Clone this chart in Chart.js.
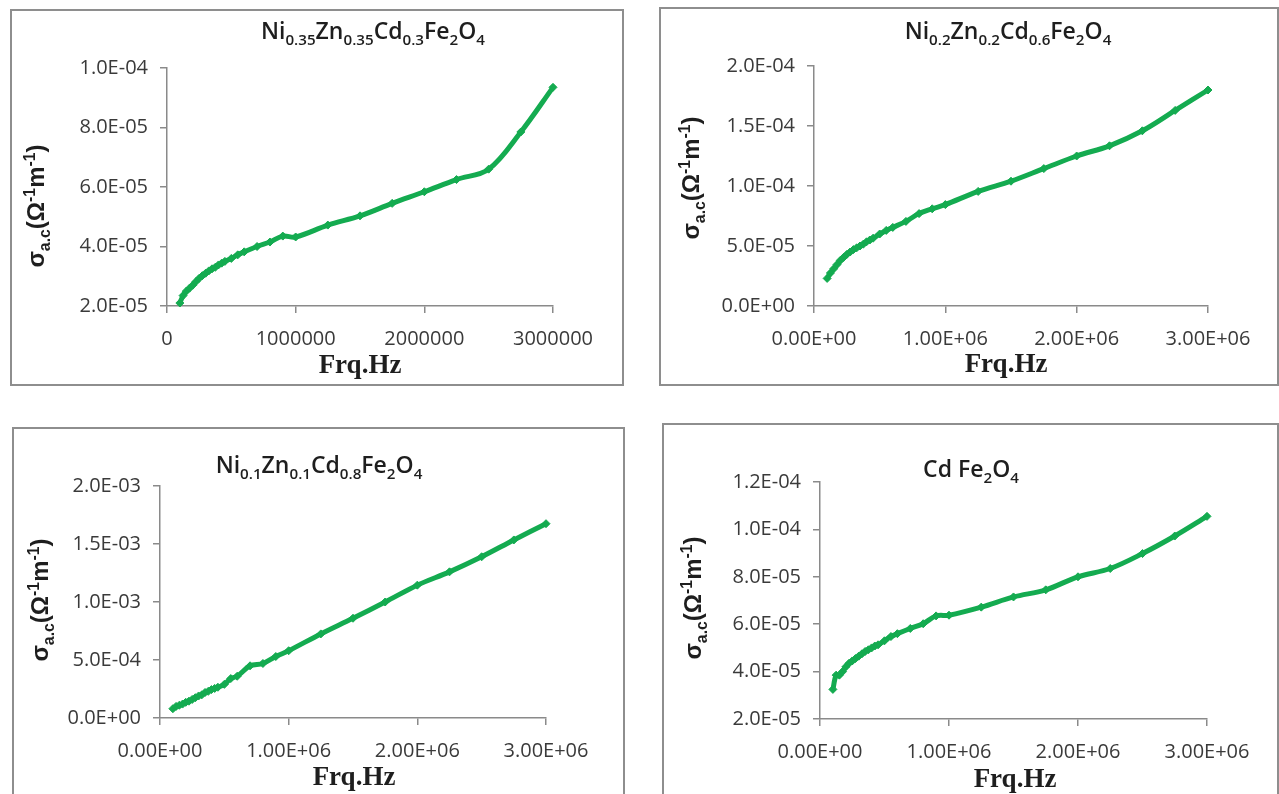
<!DOCTYPE html>
<html>
<head>
<meta charset="utf-8">
<title>Conductividad AC vs frecuencia</title>
<script src="https://cdn.jsdelivr.net/npm/chart.js@4.4.1/dist/chart.umd.min.js"></script>
<style>
    body {
        margin: 0;
        width: 1279px;
        height: 794px;
        overflow: hidden;
        background: #fff;
        position: relative;
    }
    .panel {
        position: absolute;
        border: 2px solid #8e8e8e;
        box-sizing: border-box;
        background: #fff;
    }
    .panel canvas {
        display: block;
    }
</style>
</head>
<body>
<div class="panel" id="panel1"><canvas id="grafico1"></canvas></div>
<div class="panel" id="panel2"><canvas id="grafico2"></canvas></div>
<div class="panel" id="panel3"><canvas id="grafico3"></canvas></div>
<div class="panel" id="panel4"><canvas id="grafico4"></canvas></div>

<script>
// Frecuencias medidas (Hz)
const frecuencias = [
    100000, 125000, 150000, 175000, 200000, 225000, 250000, 275000, 300000, 325000,
    350000, 375000, 400000, 425000, 450000, 500000, 550000, 600000, 700000, 800000,
    900000, 1000000, 1250000, 1500000, 1750000, 2000000, 2250000, 2500000, 2750000, 3000000
];

// Conductividad AC (Ohm^-1 m^-1) de cada muestra
const sigmaNi035 = [
    2.10e-5, 2.35e-5, 2.50e-5, 2.60e-5, 2.70e-5, 2.82e-5, 2.93e-5, 3.02e-5, 3.10e-5, 3.18e-5,
    3.25e-5, 3.30e-5, 3.38e-5, 3.44e-5, 3.50e-5, 3.60e-5, 3.72e-5, 3.82e-5, 4.00e-5, 4.15e-5,
    4.35e-5, 4.32e-5, 4.72e-5, 5.03e-5, 5.45e-5, 5.84e-5, 6.25e-5, 6.60e-5, 7.85e-5, 9.35e-5
];
const sigmaNi02 = [
    2.30e-5, 2.75e-5, 3.10e-5, 3.45e-5, 3.80e-5, 4.05e-5, 4.30e-5, 4.50e-5, 4.70e-5, 4.85e-5,
    5.00e-5, 5.15e-5, 5.35e-5, 5.50e-5, 5.65e-5, 6.00e-5, 6.30e-5, 6.55e-5, 7.05e-5, 7.70e-5,
    8.10e-5, 8.45e-5, 9.55e-5, 1.04e-4, 1.145e-4, 1.25e-4, 1.335e-4, 1.46e-4, 1.63e-4, 1.80e-4
];
const sigmaNi01 = [
    0.080e-3, 0.100e-3, 0.110e-3, 0.120e-3, 0.135e-3, 0.145e-3, 0.160e-3, 0.175e-3, 0.190e-3, 0.200e-3,
    0.220e-3, 0.230e-3, 0.245e-3, 0.255e-3, 0.265e-3, 0.290e-3, 0.340e-3, 0.360e-3, 0.450e-3, 0.470e-3,
    0.530e-3, 0.580e-3, 0.725e-3, 0.860e-3, 1.000e-3, 1.145e-3, 1.260e-3, 1.390e-3, 1.535e-3, 1.675e-3
];
const sigmaCd = [
    3.25e-5, 3.85e-5, 3.85e-5, 4.00e-5, 4.20e-5, 4.35e-5, 4.45e-5, 4.55e-5, 4.65e-5, 4.75e-5,
    4.85e-5, 4.92e-5, 5.00e-5, 5.08e-5, 5.13e-5, 5.30e-5, 5.48e-5, 5.60e-5, 5.82e-5, 6.02e-5,
    6.35e-5, 6.38e-5, 6.72e-5, 7.15e-5, 7.45e-5, 8.00e-5, 8.35e-5, 8.98e-5, 9.72e-5, 1.055e-4
];

// Marcas de los ejes
const ticksX = [0, 1000000, 2000000, 3000000];
const ticksY1 = [2e-5, 4e-5, 6e-5, 8e-5, 1e-4];
const ticksY2 = [0, 5e-5, 1e-4, 1.5e-4, 2e-4];
const ticksY3 = [0, 5e-4, 1e-3, 1.5e-3, 2e-3];
const ticksY4 = [2e-5, 4e-5, 6e-5, 8e-5, 1e-4, 1.2e-4];

// Titulos (con subindices)
const titulo1 = [["Ni"], ["0.35", "sub"], ["Zn"], ["0.35", "sub"], ["Cd"], ["0.3", "sub"], ["Fe"], ["2", "sub"], ["O"], ["4", "sub"]];
const titulo2 = [["Ni"], ["0.2", "sub"], ["Zn"], ["0.2", "sub"], ["Cd"], ["0.6", "sub"], ["Fe"], ["2", "sub"], ["O"], ["4", "sub"]];
const titulo3 = [["Ni"], ["0.1", "sub"], ["Zn"], ["0.1", "sub"], ["Cd"], ["0.8", "sub"], ["Fe"], ["2", "sub"], ["O"], ["4", "sub"]];
const titulo4 = [["Cd Fe"], ["2", "sub"], ["O"], ["4", "sub"]];
const tituloY = [["σ"], ["a.c", "sub"], ["(Ω"], ["-1", "sup"], ["m"], ["-1", "sup"], [")"]];
const tituloX = "Frq.Hz";

const verde = "#14ab50";
const gris = "#8a8a8a";

/*******************************************************************************/
// Formatos

function formatoExp(v, d) {
    const partes = v.toExponential(d).split("e");
    const exp = Math.abs(parseInt(partes[1], 10));
    return partes[0] + "E" + (partes[1][0] === "-" ? "-" : "+") + String(exp).padStart(2, "0");
}

function escribir(ctx, partes, x, y, size, peso, familia) {
    let total = 0;
    partes.forEach((p) => {
        ctx.font = peso + " " + (p[1] ? size * 0.66 : size) + "px " + familia;
        total += ctx.measureText(p[0]).width;
    });
    let cx = x - total / 2;
    partes.forEach((p) => {
        const s = p[1] ? size * 0.66 : size;
        ctx.font = peso + " " + s + "px " + familia;
        let dy = 0;
        if (p[1] === "sub") dy = size * 0.25;
        if (p[1] === "sup") dy = -size * 0.36;
        ctx.fillText(p[0], cx, y + dy);
        cx += ctx.measureText(p[0]).width;
    });
}

/*******************************************************************************/
// Rotulos: titulo, eje y, eje x

const rotulos = {
    id: "rotulos",
    afterDraw(chart, args, o) {
        const ctx = chart.ctx;
        ctx.save();
        ctx.fillStyle = "#1e1e1e";
        ctx.textAlign = "left";
        ctx.textBaseline = "alphabetic";
        escribir(ctx, o.titulo, o.tx, o.ty, 23, "600", '"Open Sans"');

        ctx.translate(o.yx, o.yy);
        ctx.rotate(-Math.PI / 2);
        escribir(ctx, tituloY, 0, 8, 24, "bold", '"Liberation Sans"');
        ctx.restore();

        ctx.save();
        ctx.fillStyle = "#1e1e1e";
        ctx.font = 'bold 27px "Liberation Serif"';
        ctx.textAlign = "center";
        ctx.textBaseline = "alphabetic";
        ctx.fillText(tituloX, o.xx, o.xy);
        ctx.restore();
    }
};

/*******************************************************************************/
// Graficos

function crearGrafico(g) {
    const panel = document.getElementById(g.panel);
    const canvas = document.getElementById(g.canvas);
    const caja = g.caja;
    panel.style.left = caja[0] + "px";
    panel.style.top = caja[1] + "px";
    panel.style.width = (caja[2] - caja[0]) + "px";
    panel.style.height = (caja[3] - caja[1]) + "px";

    const ancho = caja[2] - caja[0] - 4;
    const alto = caja[3] - caja[1] - 4;
    canvas.width = ancho;
    canvas.height = alto;

    const ox = caja[0] + 2;
    const oy = caja[1] + 2;
    const izq = g.area[0] - ox;
    const arriba = g.area[1] - oy;
    const der = g.area[2] - ox;
    const abajo = g.area[3] - oy;

    const puntos = frecuencias.map((f, i) => ({ x: f, y: g.valores[i] }));
    const fuenteTicks = { family: '"Open Sans"', size: 20 };

    new Chart(canvas, {
        type: "line",
        data: {
            datasets: [{
                data: puntos,
                borderColor: verde,
                backgroundColor: verde,
                borderWidth: 5,
                pointStyle: "rectRot",
                pointRadius: 4,
                pointHoverRadius: 4,
                pointBorderWidth: 1,
                tension: 0.35,
                fill: false,
                clip: 10
            }]
        },
        options: {
            responsive: false,
            animation: false,
            events: [],
            layout: { padding: { left: 0, top: arriba, right: ancho - der, bottom: 0 } },
            plugins: {
                legend: { display: false },
                tooltip: { enabled: false },
                rotulos: {
                    titulo: g.titulo,
                    tx: g.tit[0] - ox, ty: g.tit[1] - oy,
                    yx: g.ejeY[0] - ox, yy: g.ejeY[1] - oy,
                    xx: g.ejeX[0] - ox, xy: g.ejeX[1] - oy
                }
            },
            scales: {
                x: {
                    type: "linear",
                    min: 0,
                    max: 3000000,
                    afterBuildTicks: (s) => { s.ticks = ticksX.map((v) => ({ value: v })); },
                    afterFit: (s) => { s.height = alto - abajo; },
                    grid: { drawOnChartArea: false, tickLength: 7, color: gris, lineWidth: 1.5 },
                    border: { color: gris, width: 1.5 },
                    ticks: {
                        callback: g.formatoX,
                        color: "#3a3a3a",
                        font: fuenteTicks,
                        padding: 14,
                        maxRotation: 0,
                        autoSkip: false
                    }
                },
                y: {
                    type: "linear",
                    min: g.ticksY[0],
                    max: g.ticksY[g.ticksY.length - 1],
                    afterBuildTicks: (s) => { s.ticks = g.ticksY.map((v) => ({ value: v })); },
                    afterFit: (s) => { s.width = izq; },
                    grid: { drawOnChartArea: false, tickLength: 7, color: gris, lineWidth: 1.5 },
                    border: { color: gris, width: 1.5 },
                    ticks: {
                        callback: (v) => formatoExp(v, 1),
                        color: "#3a3a3a",
                        font: fuenteTicks,
                        padding: 12
                    }
                }
            }
        },
        plugins: [rotulos]
    });
}

const enteros = (v) => String(v);
const cientifico = (v) => formatoExp(v, 2);

crearGrafico({
    panel: "panel1", canvas: "grafico1",
    caja: [10, 9, 624, 386], area: [167, 68, 553, 306],
    tit: [373, 39], ejeY: [36, 206], ejeX: [360, 373],
    titulo: titulo1, valores: sigmaNi035, ticksY: ticksY1, formatoX: enteros
});

crearGrafico({
    panel: "panel2", canvas: "grafico2",
    caja: [659, 7, 1279, 386], area: [814, 66, 1208, 306],
    tit: [1008, 39], ejeY: [691, 178], ejeX: [1006, 372],
    titulo: titulo2, valores: sigmaNi02, ticksY: ticksY2, formatoX: cientifico
});

crearGrafico({
    panel: "panel3", canvas: "grafico3",
    caja: [12, 427, 625, 806], area: [160, 486, 546, 718],
    tit: [319, 473], ejeY: [40, 600], ejeX: [354, 785],
    titulo: titulo3, valores: sigmaNi01, ticksY: ticksY3, formatoX: cientifico
});

crearGrafico({
    panel: "panel4", canvas: "grafico4",
    caja: [662, 423, 1279, 806], area: [820, 482, 1207, 719],
    tit: [971, 477], ejeY: [693, 598], ejeX: [1015, 787],
    titulo: titulo4, valores: sigmaCd, ticksY: ticksY4, formatoX: cientifico
});
</script>
</body>
</html>
